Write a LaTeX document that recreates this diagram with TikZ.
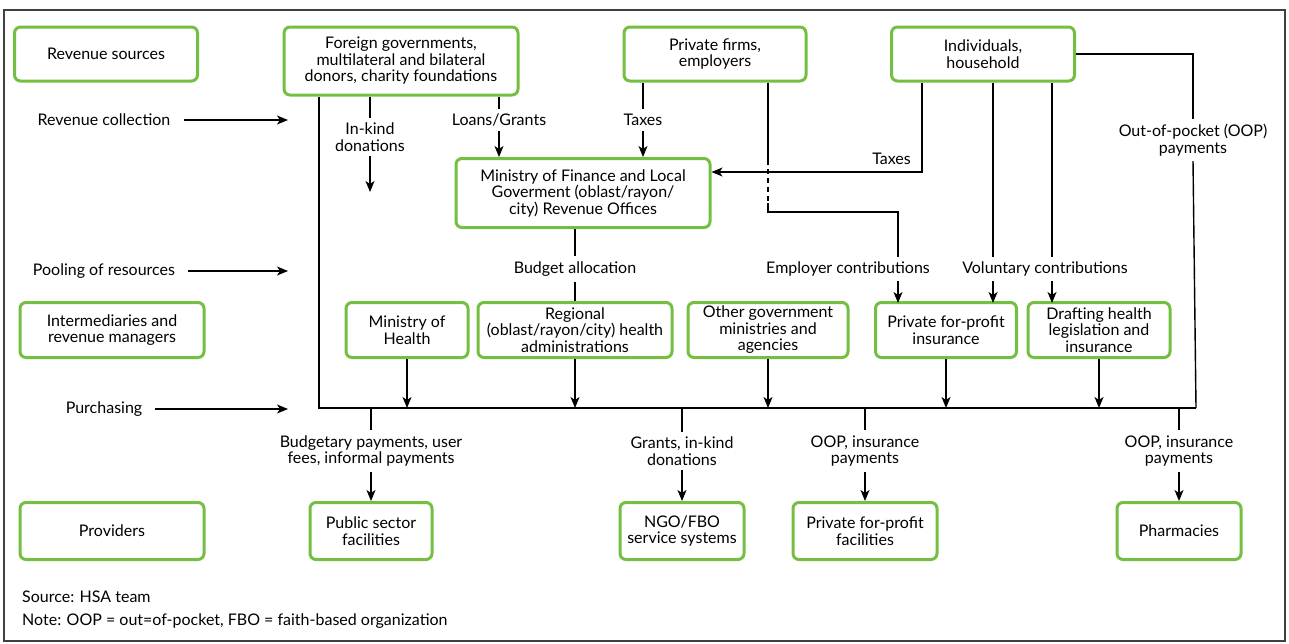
\documentclass[tikz,border=0pt]{standalone}
\usepackage{fontspec}
\setmainfont{Lato}
\usepackage{xcolor}
\usetikzlibrary{arrows.meta}
\definecolor{boxgreen}{RGB}{116,190,66}

\begin{document}
\begin{tikzpicture}[x=1pt,y=-1pt,
  font=\fontsize{16}{16.5}\selectfont,
  box/.style={draw=boxgreen,line width=3pt,rounded corners=6pt,fill=white,align=center,inner sep=2pt},
  lbl/.style={align=center,inner sep=5pt},
  flow/.style={-{Stealth[length=11pt,width=9pt,inset=3pt]},line width=1.4pt},
  link/.style={line width=1.4pt}]
\useasboundingbox (0,0) rectangle (1289,643);
\draw[line width=1.2pt,black!75] (4,10) rectangle (1285,641);
\node[box,minimum width=183pt,minimum height=54pt] (rs) at (106,54) {Revenue sources};
\node[box,minimum width=234pt,minimum height=68pt] (fg) at (401,61) {Foreign governments,\\multilateral and bilateral\\donors, charity foundations};
\node[box,minimum width=182pt,minimum height=54pt] (pf) at (715,54) {Private firms,\\employers};
\node[box,minimum width=183pt,minimum height=54pt] (ind) at (983,54) {Individuals,\\household};
\node[box,minimum width=254pt,minimum height=69pt] (mof) at (583,193) {Ministry of Finance and Local\\Goverment (oblast/rayon/\\city) Revenue Offices};
\node[box,minimum width=184pt,minimum height=55pt] (imr) at (112,330) {Intermediaries and\\revenue managers};
\node[box,minimum width=122pt,minimum height=55pt] (moh) at (407,330) {Ministry of\\Health};
\node[box,minimum width=194pt,minimum height=55pt] (reg) at (575,330) {Regional\\(oblast/rayon/city) health\\administrations};
\node[box,minimum width=160pt,minimum height=55pt] (oth) at (768,330) {Other government\\ministries and\\agencies};
\node[box,minimum width=141pt,minimum height=55pt] (pins) at (946,330) {Private for-profit\\insurance};
\node[box,minimum width=142pt,minimum height=55pt] (dhl) at (1099,330) {Drafting health\\legislation and\\insurance};
\node[box,minimum width=184pt,minimum height=57pt] (prov) at (112,531) {Providers};
\node[box,minimum width=122pt,minimum height=57pt] (pubs) at (371,531) {Public sector\\facilities};
\node[box,minimum width=124pt,minimum height=57pt] (ngo) at (682,531) {NGO/FBO\\service systems};
\node[box,minimum width=144pt,minimum height=57pt] (pfac) at (865,531) {Private for-profit\\facilities};
\node[box,minimum width=124pt,minimum height=57pt] (phar) at (1179,531) {Pharmacies};

\node[lbl] (rcoll) at (104,120) {Revenue collection};
\node[lbl] (pool) at (104,271) {Pooling of resources};
\node[lbl] (purch) at (104,409) {Purchasing};
\coordinate (rc-end) at (288,120);
\coordinate (po-end) at (288,271);
\coordinate (pu-end) at (288,409);
\draw[flow] (rcoll.east) ++(8,0) -- (rc-end);
\draw[flow] (pool.east) ++(8,0) -- (po-end);
\draw[flow] (purch.east) ++(8,0) -- (pu-end);

\node[lbl] (inkind) at (370,137) {In-kind\\donations};
\node[lbl] (loans) at (499,120) {Loans/Grants};
\node[lbl] (tax1) at (643,120) {Taxes};
\node[lbl,anchor=south east] (tax2) at (916,170) {Taxes};
\node[lbl] (oop) at (1193,140) {Out-of-pocket (OOP)\\payments};
\node[lbl] (budget) at (575,269) {Budget allocation};
\node[lbl] (emp) at (848,269) {Employer contributions};
\node[lbl] (vol) at (1045,269) {Voluntary contributions};
\node[lbl] (budpay) at (371,451) {Budgetary payments, user\\fees, informal payments};
\node[lbl] (grants) at (682,451) {Grants, in-kind\\donations};
\node[lbl] (oop1) at (865,451) {OOP, insurance\\payments};
\node[lbl] (oop2) at (1179,451) {OOP, insurance\\payments};

\coordinate (bus-l) at (319,408);
\coordinate (bus-r) at (1196,408);
\coordinate (ik-end) at (370,192);
\coordinate (dash-top) at (768,160);
\coordinate (dash-bot) at (768,203);
\coordinate (empturn) at (768,212);
\coordinate (emp-in) at (898,303);
\coordinate (taxturn) at (922,172);
\coordinate (vol-a) at (993,303);
\coordinate (vol-b) at (1052,303);

% revenue collection
\draw[link] (fg.south -| bus-l) |- (bus-r);
\draw[link] (fg.south -| inkind) -- (inkind.north);
\draw[flow] (inkind.south) -- (ik-end);
\draw[link] (fg.south -| loans) -- (loans.north);
\draw[flow] (loans.south) -- (mof.north -| loans);
\draw[link] (pf.south -| tax1) -- (tax1.north);
\draw[flow] (tax1.south) -- (mof.north -| tax1);
\draw[flow] (ind.south -| taxturn) |- (mof.east |- taxturn);
\draw[link] (ind.east) -| (oop.north);
\draw[link] (oop.south) -- (bus-r);
\draw[link] (pf.south -| dash-top) -- (dash-top);
\draw[link,dashed,dash pattern=on 5pt off 4pt] (dash-top) -- (dash-bot);
\draw[link] (dash-bot) -- (empturn) -| (emp.north -| emp-in);
\draw[flow] (emp.south -| emp-in) -- (emp-in);
\draw[link] (ind.south -| vol-a) -- (vol.north -| vol-a);
\draw[link] (ind.south -| vol-b) -- (vol.north -| vol-b);
\draw[flow] (vol.south -| vol-a) -- (vol-a);
\draw[flow] (vol.south -| vol-b) -- (vol-b);

% pooling
\draw[link] (mof.south -| budget) -- (budget.north);
\draw[link] (budget.south) -- (reg.north -| budget);

% purchasing
\foreach \n in {moh,reg,oth,pins,dhl}
  \draw[flow] (\n.south) -- (\n.south |- bus-l);
\foreach \l/\b in {budpay/pubs,grants/ngo,oop1/pfac,oop2/phar}{
  \draw[link] (\l.north |- bus-l) -- (\l.north);
  \draw[flow] (\l.south) -- (\b.north);
}

\node[anchor=west,inner sep=0pt] (src) at (22,597) {Source: HSA team};
\node[anchor=west,inner sep=0pt] (note) at (22,621) {Note: OOP = out=of-pocket, FBO = faith-based organization};
\end{tikzpicture}
\end{document}
